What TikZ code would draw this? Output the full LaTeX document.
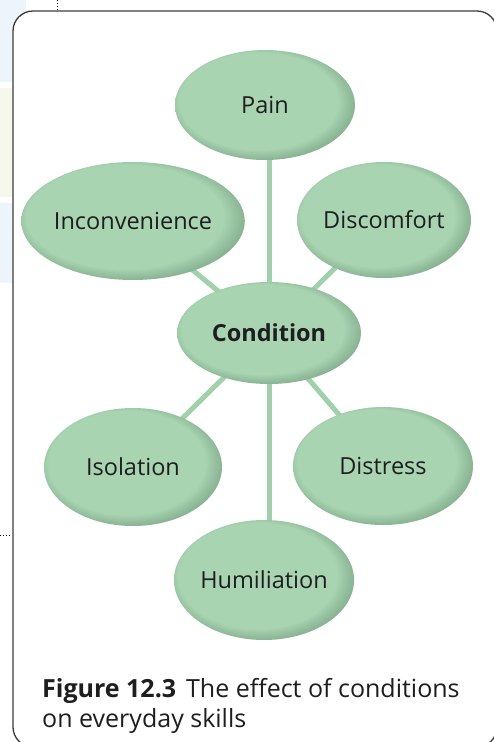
\documentclass[tikz,border=0pt]{standalone}
\usepackage{fontspec}
\setmainfont{Open Sans}
\usetikzlibrary{shapes.geometric}

\definecolor{bubblelight}{RGB}{168,212,178}
\definecolor{bubblemid}{RGB}{136,178,146}
\definecolor{bubbledark}{RGB}{90,124,98}
\definecolor{linkgreen}{RGB}{160,208,172}
\definecolor{framegray}{RGB}{60,60,60}
\definecolor{textdark}{RGB}{30,30,30}
\definecolor{stripblue}{RGB}{238,244,251}
\definecolor{stripyellow}{RGB}{247,248,236}

% soft rim towards the lower right of each bubble (path edge sits at 25bp)
\pgfdeclareradialshading{bubbleshade}{\pgfpoint{-4bp}{4bp}}{%
  color(0bp)=(bubblelight);
  color(22bp)=(bubblelight);
  color(26.5bp)=(bubblemid);
  color(30.5bp)=(bubbledark);
  color(40bp)=(bubbledark)}

\pgfdeclarelayer{backdrop}
\pgfdeclarelayer{links}
\pgfsetlayers{backdrop,links,main}

\tikzset{
  bubble/.style={ellipse, shading=bubbleshade, inner sep=0pt,
    text=textdark, font=\fontsize{23.5pt}{28pt}\selectfont},
  link/.style={draw=linkgreen, line width=5pt},
  frameline/.style={draw=framegray, line width=1.3pt, fill=white},
  dotline/.style={draw=black, line width=1pt, dotted}
}

\begin{document}
\begin{tikzpicture}[x=1pt,y=-1pt]
\useasboundingbox (0,0) rectangle (493,742);

\begin{pgfonlayer}{backdrop}
  % page strips beside the panel
  \fill[stripblue] (0,0) rectangle (26,82);
  \fill[stripyellow] (0,88) rectangle (26,197);
  \fill[stripblue] (0,203) rectangle (26,283);
  % panel
  \draw[frameline, rounded corners=20pt] (13,11) rectangle (497,747);
  \draw[dotline] (57,0) -- (57,10);
  \draw[dotline] (0,535) -- (12,535);
\end{pgfonlayer}

\node[bubble, minimum width=180pt, minimum height=110pt] (pain) at (265,105) {Pain};
\node[bubble, minimum width=182pt, minimum height=118pt] (inconv) at (133,221) {Inconvenience};
\node[bubble, minimum width=174pt, minimum height=116pt] (discomf) at (384,220) {Discomfort};
\node[bubble, minimum width=184pt, minimum height=102pt, font=\fontsize{23.5pt}{28pt}\selectfont\bfseries] (cond) at (269,333) {Condition};
\node[bubble, minimum width=178pt, minimum height=118pt] (isol) at (133,467) {Isolation};
\node[bubble, minimum width=180pt, minimum height=118pt] (distr) at (383,466) {Distress};
\node[bubble, minimum width=178pt, minimum height=120pt] (humil) at (264,580) {Humiliation};

\begin{pgfonlayer}{links}
  \draw[link] (cond.center) -- (cond.center |- pain.center);
  \draw[link] (cond.center) -- (cond.center |- humil.center);
  \draw[link] (cond.center) -- (inconv.center);
  \draw[link] (cond.center) -- (discomf.center);
  \draw[link] (cond.center) -- (isol.center);
  \draw[link] (cond.center) -- (distr.center);
\end{pgfonlayer}

% caption: the base anchor sits on the last line
\node[anchor=base west, inner sep=0pt, text=textdark,
  font=\fontsize{25pt}{30pt}\selectfont, align=left] (caption) at (42,727)
  {\textbf{Figure 12.3}\hspace{0.4em}The effect of conditions\\on everyday skills};
\end{tikzpicture}
\end{document}
